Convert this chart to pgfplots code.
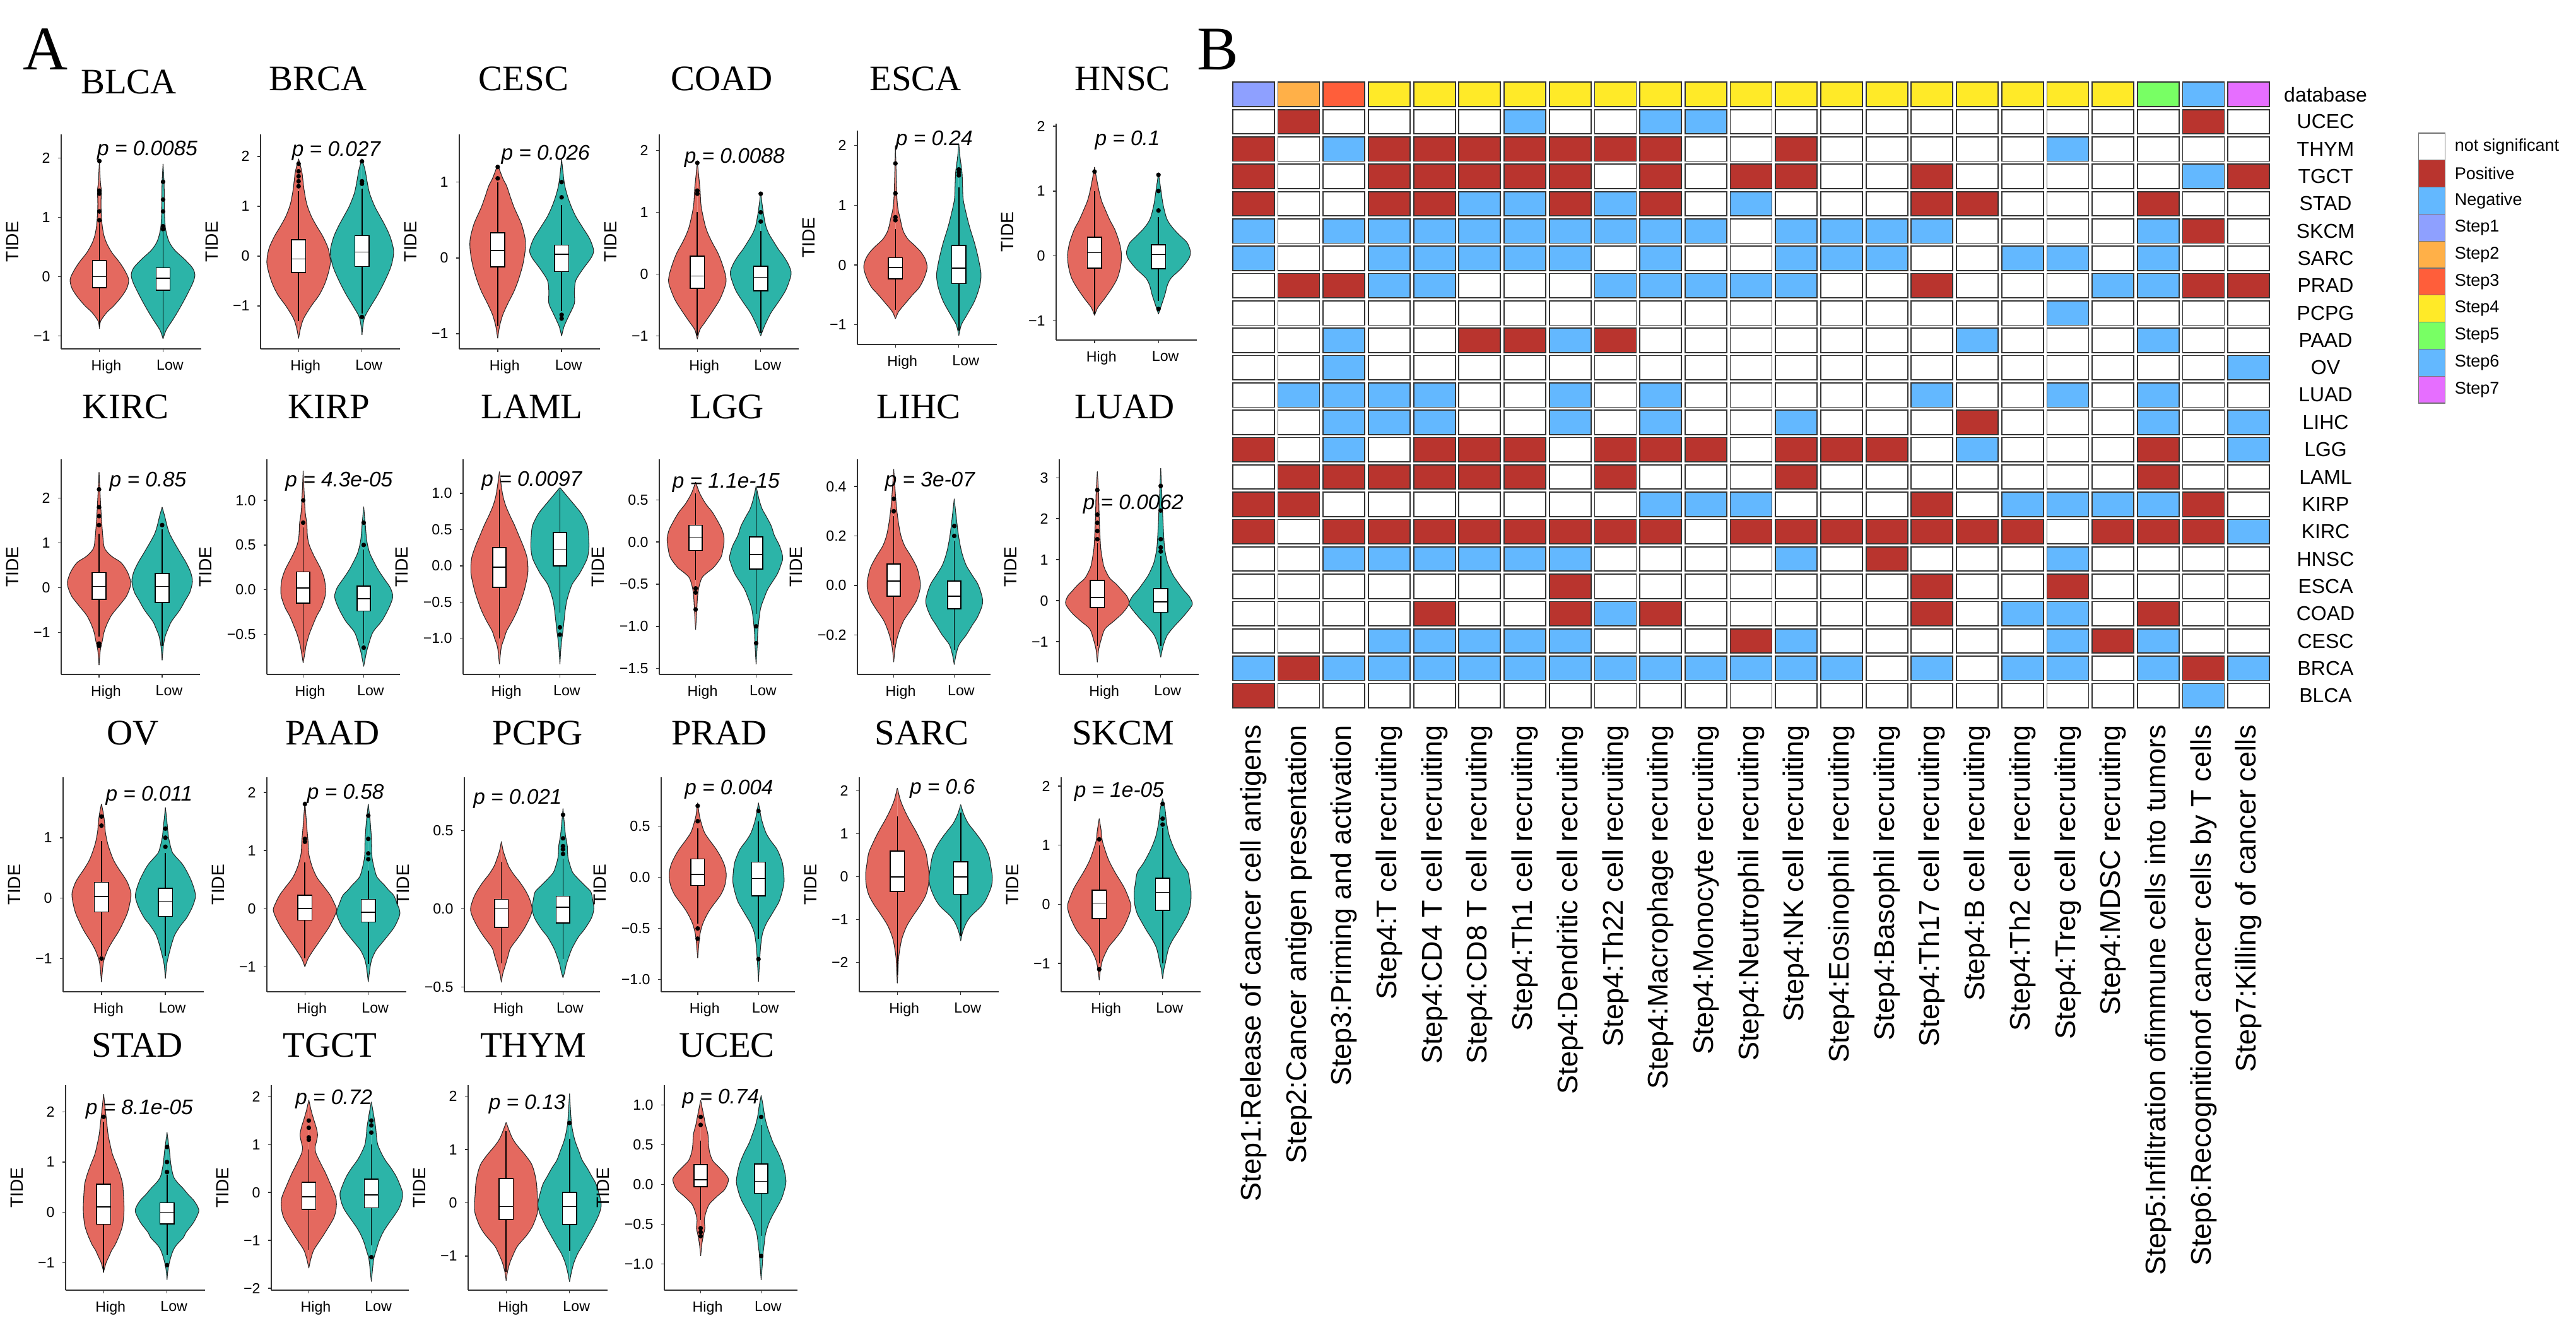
\documentclass[border=0pt]{standalone}
\usepackage{fontspec}
\setmainfont{Liberation Serif}
\newfontfamily\arial{Liberation Sans}
\usepackage{pgfplots}
\usepackage{pgfplotstable}
\pgfplotsset{compat=1.18}
\usepgfplotslibrary{statistics}

\definecolor{hcol}{HTML}{E4695F}
\definecolor{lcol}{HTML}{2CB4A8}
\definecolor{pos}{HTML}{B9342E}
\definecolor{neg}{HTML}{63B8FF}
\definecolor{st1}{HTML}{8EA0FF}
\definecolor{st2}{HTML}{FFB048}
\definecolor{st3}{HTML}{FF5E3A}
\definecolor{st4}{HTML}{FFEA28}
\definecolor{st5}{HTML}{78FF64}
\definecolor{st6}{HTML}{63B8FF}
\definecolor{st7}{HTML}{E66EFF}

\newcommand{\tickf}{\arial\fontsize{6.6}{7}\selectfont}
\newcommand{\tidef}{\arial\fontsize{8}{9}\selectfont}
\newcommand{\pf}{\arial\itshape\fontsize{9.5}{10}\selectfont}
\newcommand{\titf}{\rmfamily\fontsize{16.2}{17}\selectfont}
\newcommand{\abf}{\rmfamily\fontsize{28}{30}\selectfont}
\newcommand{\hxf}{\arial\fontsize{12.8}{14}\selectfont}
\newcommand{\hyf}{\arial\fontsize{9.1}{10}\selectfont}
\newcommand{\legf}{\arial\fontsize{7.7}{9}\selectfont}

\pgfdeclareplotmark{cell}{\pgfpathrectangle{\pgfpoint{-3.3mm}{-1.925mm}}{\pgfpoint{6.6mm}{3.85mm}}\pgfusepathqfillstroke}

\pgfplotsset{
 vio/.style={scale only axis, anchor=south west, axis lines*=left, xmin=0.4, xmax=2.6,
   xtick={1,2}, xticklabels={High,Low}, clip=false,
   tick align=outside, major tick length=0.5mm, tick style={black!80, line width=0.4pt},
   axis line style={black!80, line width=0.6pt},
   ticklabel style={font=\tickf}, xticklabel style={xshift=1.1mm},
   ylabel={TIDE}, ylabel style={font=\tidef}},
 bx/.style={draw=black, line width=0.45pt, fill=white, mark=*, mark size=0.8pt,
   mark options={fill=black, draw=black, solid}, boxplot/draw direction=y,
   boxplot/box extend=0.22, boxplot/whisker extend=0}
}
\tikzset{pv/.style={anchor=base west, inner sep=0pt, font=\pf}}
\newcommand{\AT}[2]{at={(#1*0.1mm,-#2*0.1mm)}}
\newcommand{\violin}[3]{%
 \addplot[fill=#3, draw=black!85, line width=0.3pt, smooth, tension=0.5] table[x expr={#2-\thisrow{w}}, y=y]{#1};
 \addplot[fill=#3, draw=black!85, line width=0.3pt, smooth, tension=0.5] table[x expr={#2+\thisrow{w}}, y=y]{#1};}
\newcommand{\bp}[7]{\addplot[bx,boxplot prepared={draw position=#1,lower whisker=#2,lower quartile=#3,median=#4,upper quartile=#5,upper whisker=#6}] table[row sep=\\,y index=0]{v\\#7};}
\newcommand{\bpn}[6]{\addplot[bx,boxplot prepared={draw position=#1,lower whisker=#2,lower quartile=#3,median=#4,upper quartile=#5,upper whisker=#6}] coordinates {};}
\newcommand{\vt}[2]{\pgfplotstableread[row sep=\\]{y w\\#2}#1}

\vt{\tBLCAh}{-0.88 0\\-0.75 0.02\\-0.6 0.12\\-0.5 0.22\\-0.35 0.34\\-0.2 0.43\\-0.05 0.46\\0.1 0.40\\0.25 0.31\\0.4 0.2\\0.55 0.12\\0.7 0.07\\0.9 0.04\\1.2 0.025\\1.45 0.03\\1.6 0.015\\1.95 0\\}
\vt{\tBLCAl}{-1.05 0\\-0.9 0.05\\-0.7 0.17\\-0.5 0.28\\-0.3 0.38\\-0.1 0.47\\0.03 0.5\\0.15 0.46\\0.3 0.33\\0.45 0.18\\0.6 0.09\\0.8 0.04\\1.0 0.025\\1.3 0.02\\1.6 0.015\\1.9 0\\}
\vt{\tBRCAh}{-1.65 0\\-1.45 0.03\\-1.25 0.08\\-1.0 0.2\\-0.77 0.33\\-0.5 0.43\\-0.15 0.5\\0.14 0.47\\0.4 0.38\\0.59 0.29\\0.8 0.2\\1.04 0.13\\1.3 0.09\\1.5 0.07\\1.7 0.05\\1.95 0\\}
\vt{\tBRCAl}{-1.58 0\\-1.35 0.02\\-1.2 0.05\\-1.0 0.14\\-0.77 0.25\\-0.5 0.36\\-0.2 0.46\\0.09 0.5\\0.37 0.45\\0.6 0.37\\0.81 0.28\\1.0 0.2\\1.26 0.12\\1.5 0.08\\1.72 0.05\\1.95 0\\}
\vt{\tCESCh}{-1.06 0\\-0.9 0.03\\-0.75 0.08\\-0.6 0.16\\-0.45 0.25\\-0.3 0.32\\-0.1 0.39\\0.1 0.43\\0.25 0.43\\0.45 0.37\\0.66 0.26\\0.8 0.2\\0.95 0.14\\1.05 0.08\\1.23 0\\}
\vt{\tCESCl}{-1.03 0\\-0.9 0.04\\-0.75 0.12\\-0.6 0.2\\-0.45 0.2\\-0.3 0.22\\-0.15 0.33\\0.0 0.46\\0.1 0.5\\0.25 0.44\\0.4 0.33\\0.55 0.22\\0.7 0.14\\0.85 0.08\\1.0 0.04\\1.3 0\\}
\vt{\tCOADh}{-1.05 0\\-0.9 0.04\\-0.78 0.12\\-0.6 0.24\\-0.4 0.36\\-0.15 0.45\\0.0 0.44\\0.2 0.38\\0.35 0.32\\0.5 0.24\\0.65 0.17\\0.8 0.12\\1.1 0.06\\1.4 0.04\\1.8 0\\}
\vt{\tCOADl}{-1.0 0\\-0.84 0.06\\-0.63 0.16\\-0.45 0.28\\-0.25 0.4\\0.0 0.48\\0.15 0.44\\0.29 0.36\\0.4 0.28\\0.53 0.2\\0.65 0.13\\0.78 0.08\\1.0 0.04\\1.31 0\\}
\vt{\tESCAh}{-0.9 0\\-0.78 0.05\\-0.65 0.15\\-0.5 0.27\\-0.37 0.38\\-0.2 0.46\\-0.04 0.5\\0.1 0.47\\0.22 0.4\\0.33 0.3\\0.43 0.2\\0.55 0.13\\0.65 0.1\\0.8 0.07\\0.94 0.04\\1.2 0.02\\2.0 0\\}
\vt{\tESCAl}{-1.18 0\\-1.0 0.04\\-0.85 0.12\\-0.6 0.25\\-0.35 0.33\\-0.15 0.35\\0.1 0.31\\0.36 0.25\\0.6 0.18\\0.8 0.13\\1.09 0.07\\1.3 0.06\\1.55 0.05\\1.8 0.02\\2.03 0\\}
\vt{\tHNSCh}{-0.92 0\\-0.8 0.05\\-0.67 0.15\\-0.5 0.27\\-0.34 0.36\\-0.15 0.41\\0.03 0.42\\0.2 0.39\\0.4 0.32\\0.55 0.24\\0.73 0.16\\0.85 0.11\\1.0 0.07\\1.2 0.03\\1.37 0\\}
\vt{\tHNSCl}{-0.9 0\\-0.75 0.05\\-0.6 0.1\\-0.45 0.14\\-0.34 0.2\\-0.2 0.35\\-0.05 0.47\\0.06 0.5\\0.2 0.45\\0.3 0.35\\0.4 0.25\\0.5 0.17\\0.6 0.12\\0.8 0.07\\1.0 0.04\\1.27 0\\}
\vt{\tKIRCh}{-1.73 0\\-1.4 0.02\\-1.2 0.05\\-0.99 0.08\\-0.8 0.13\\-0.61 0.2\\-0.4 0.32\\-0.2 0.43\\0.0 0.49\\0.14 0.5\\0.35 0.45\\0.56 0.35\\0.7 0.2\\0.85 0.1\\1.0 0.07\\1.5 0.04\\2.0 0.02\\2.58 0\\}
\vt{\tKIRCl}{-1.62 0\\-1.3 0.02\\-1.08 0.05\\-0.9 0.1\\-0.75 0.15\\-0.5 0.28\\-0.3 0.36\\-0.1 0.44\\0.14 0.48\\0.35 0.45\\0.56 0.38\\0.75 0.3\\0.99 0.2\\1.2 0.12\\1.37 0.08\\1.6 0.04\\1.8 0\\}
\vt{\tKIRPh}{-0.82 0\\-0.7 0.03\\-0.62 0.05\\-0.5 0.1\\-0.43 0.14\\-0.3 0.22\\-0.2 0.3\\-0.08 0.36\\0.01 0.37\\0.12 0.35\\0.22 0.3\\0.3 0.24\\0.39 0.17\\0.5 0.1\\0.6 0.07\\0.74 0.06\\0.9 0.03\\1.33 0\\}
\vt{\tKIRPl}{-0.86 0\\-0.72 0.04\\-0.64 0.07\\-0.48 0.15\\-0.35 0.3\\-0.2 0.42\\-0.08 0.48\\0.02 0.44\\0.11 0.35\\0.2 0.26\\0.27 0.2\\0.41 0.1\\0.55 0.05\\0.7 0.03\\0.93 0\\}
\vt{\tLAMLh}{-1.36 0\\-1.13 0.03\\-1.0 0.08\\-0.9 0.12\\-0.75 0.22\\-0.61 0.3\\-0.45 0.37\\-0.31 0.42\\-0.1 0.47\\0.1 0.46\\0.26 0.4\\0.4 0.33\\0.56 0.25\\0.7 0.17\\0.84 0.1\\1.0 0.05\\1.3 0\\}
\vt{\tLAMLl}{-1.36 0\\-1.1 0.02\\-0.9 0.05\\-0.75 0.07\\-0.6 0.09\\-0.46 0.12\\-0.26 0.2\\-0.1 0.33\\0.1 0.45\\0.26 0.48\\0.45 0.47\\0.56 0.45\\0.7 0.37\\0.78 0.3\\0.9 0.18\\0.96 0.12\\1.08 0\\}
\vt{\tLGGh}{-1.04 0\\-0.8 0.02\\-0.67 0.03\\-0.55 0.05\\-0.43 0.1\\-0.37 0.18\\-0.3 0.3\\-0.18 0.42\\-0.05 0.46\\0.04 0.47\\0.14 0.44\\0.24 0.37\\0.35 0.28\\0.44 0.18\\0.52 0.11\\0.59 0.06\\0.71 0\\}
\vt{\tLGGl}{-1.45 0\\-1.2 0.02\\-1.04 0.03\\-0.8 0.07\\-0.65 0.14\\-0.55 0.2\\-0.38 0.35\\-0.25 0.42\\-0.18 0.44\\-0.05 0.39\\0.08 0.3\\0.19 0.25\\0.3 0.17\\0.39 0.1\\0.5 0.05\\0.66 0\\}
\vt{\tLIHCh}{-0.31 0\\-0.26 0.02\\-0.22 0.05\\-0.18 0.1\\-0.14 0.17\\-0.1 0.28\\-0.06 0.38\\-0.02 0.43\\0.01 0.44\\0.05 0.41\\0.08 0.37\\0.12 0.28\\0.16 0.18\\0.2 0.12\\0.25 0.08\\0.33 0.04\\0.47 0\\}
\vt{\tLIHCl}{-0.32 0\\-0.28 0.03\\-0.24 0.08\\-0.2 0.2\\-0.16 0.3\\-0.13 0.38\\-0.09 0.45\\-0.06 0.47\\-0.02 0.43\\0.01 0.38\\0.04 0.3\\0.08 0.2\\0.12 0.14\\0.16 0.1\\0.22 0.06\\0.35 0\\}
\vt{\tLUADh}{-1.5 0\\-1.2 0.02\\-0.95 0.06\\-0.69 0.12\\-0.5 0.26\\-0.3 0.4\\-0.08 0.5\\0.1 0.47\\0.23 0.4\\0.4 0.3\\0.54 0.2\\0.7 0.14\\0.85 0.1\\1.1 0.07\\1.35 0.05\\2.0 0.03\\2.6 0.02\\3.15 0\\}
\vt{\tLUADl}{-1.38 0\\-1.1 0.04\\-0.85 0.1\\-0.65 0.2\\-0.45 0.32\\-0.25 0.43\\-0.08 0.5\\0.1 0.45\\0.26 0.36\\0.45 0.27\\0.61 0.2\\0.8 0.14\\0.97 0.1\\1.3 0.06\\1.8 0.04\\2.5 0.02\\3.23 0\\}
\vt{\tOVh}{-1.39 0\\-1.15 0.02\\-1.02 0.04\\-0.85 0.1\\-0.7 0.18\\-0.53 0.28\\-0.26 0.4\\-0.05 0.45\\0.09 0.46\\0.25 0.41\\0.36 0.35\\0.5 0.26\\0.65 0.18\\0.89 0.1\\1.1 0.06\\1.24 0.05\\1.4 0.03\\1.56 0\\}
\vt{\tOVl}{-1.33 0\\-1.1 0.02\\-0.95 0.05\\-0.75 0.1\\-0.6 0.15\\-0.45 0.24\\-0.33 0.33\\-0.15 0.42\\0.02 0.47\\0.15 0.45\\0.3 0.4\\0.45 0.33\\0.57 0.26\\0.7 0.15\\0.78 0.1\\1.0 0.05\\1.2 0.03\\1.5 0\\}
\vt{\tPAADh}{-1.0 0\\-0.86 0.05\\-0.72 0.13\\-0.61 0.2\\-0.45 0.3\\-0.32 0.38\\-0.15 0.46\\-0.02 0.5\\0.1 0.46\\0.23 0.4\\0.35 0.32\\0.52 0.2\\0.65 0.14\\0.77 0.1\\0.95 0.06\\1.15 0.05\\1.4 0.03\\1.84 0\\}
\vt{\tPAADl}{-1.26 0\\-1.0 0.03\\-0.86 0.06\\-0.72 0.12\\-0.61 0.2\\-0.45 0.32\\-0.3 0.42\\-0.08 0.5\\0.1 0.45\\0.23 0.4\\0.32 0.32\\0.41 0.25\\0.5 0.17\\0.59 0.12\\0.88 0.06\\1.2 0.05\\1.5 0.03\\1.8 0\\}
\vt{\tPCPGh}{-0.47 0\\-0.42 0.02\\-0.38 0.05\\-0.3 0.11\\-0.25 0.15\\-0.18 0.28\\-0.12 0.38\\-0.05 0.47\\0.0 0.5\\0.06 0.46\\0.11 0.4\\0.17 0.3\\0.22 0.2\\0.27 0.12\\0.31 0.08\\0.37 0.03\\0.43 0\\}
\vt{\tPCPGl}{-0.44 0\\-0.4 0.03\\-0.36 0.05\\-0.3 0.1\\-0.25 0.15\\-0.18 0.25\\-0.13 0.35\\-0.06 0.46\\0.0 0.5\\0.06 0.48\\0.11 0.45\\0.15 0.35\\0.19 0.25\\0.23 0.16\\0.27 0.12\\0.33 0.08\\0.4 0.07\\0.47 0.04\\0.55 0.02\\0.64 0\\}
\vt{\tPRADh}{-0.79 0\\-0.65 0.02\\-0.55 0.04\\-0.46 0.08\\-0.38 0.14\\-0.3 0.22\\-0.17 0.38\\-0.07 0.45\\0.03 0.47\\0.12 0.44\\0.2 0.38\\0.28 0.3\\0.36 0.2\\0.43 0.12\\0.49 0.08\\0.6 0.03\\0.73 0\\}
\vt{\tPRADl}{-1.02 0\\-0.8 0.02\\-0.65 0.04\\-0.54 0.07\\-0.45 0.13\\-0.38 0.2\\-0.3 0.28\\-0.22 0.35\\-0.05 0.42\\0.12 0.4\\0.2 0.36\\0.28 0.3\\0.36 0.2\\0.44 0.12\\0.57 0.05\\0.73 0\\}
\vt{\tSARCh}{-2.49 0\\-2.2 0.01\\-1.9 0.02\\-1.6 0.05\\-1.41 0.08\\-1.15 0.15\\-0.91 0.25\\-0.65 0.37\\-0.43 0.45\\-0.2 0.49\\0.06 0.5\\0.3 0.48\\0.56 0.45\\0.8 0.38\\1.04 0.3\\1.3 0.2\\1.53 0.12\\1.78 0.05\\2.07 0\\}
\vt{\tSARCl}{-1.5 0\\-1.35 0.02\\-1.21 0.05\\-1.05 0.1\\-0.91 0.17\\-0.7 0.32\\-0.53 0.4\\-0.25 0.48\\-0.03 0.5\\0.2 0.48\\0.46 0.45\\0.65 0.4\\0.85 0.32\\1.05 0.22\\1.24 0.12\\1.45 0.05\\1.68 0\\}
\vt{\tSKCMh}{-1.28 0\\-1.1 0.02\\-0.95 0.05\\-0.87 0.08\\-0.72 0.15\\-0.59 0.25\\-0.45 0.35\\-0.31 0.42\\-0.15 0.48\\-0.02 0.5\\0.12 0.46\\0.27 0.4\\0.4 0.33\\0.54 0.25\\0.7 0.17\\0.83 0.12\\1.07 0.05\\1.25 0.03\\1.45 0\\}
\vt{\tSKCMl}{-1.26 0\\-1.1 0.02\\-1.01 0.04\\-0.85 0.07\\-0.73 0.1\\-0.6 0.16\\-0.45 0.25\\-0.3 0.33\\-0.16 0.4\\0.0 0.44\\0.19 0.45\\0.35 0.43\\0.54 0.4\\0.7 0.3\\0.9 0.2\\1.05 0.14\\1.18 0.1\\1.4 0.06\\1.6 0.04\\1.79 0\\}
\vt{\tSTADh}{-1.18 0\\-1.0 0.04\\-0.89 0.08\\-0.75 0.13\\-0.65 0.18\\-0.45 0.25\\-0.25 0.3\\0.0 0.32\\0.16 0.32\\0.4 0.31\\0.56 0.3\\0.75 0.26\\0.96 0.2\\1.15 0.14\\1.36 0.1\\1.55 0.07\\1.77 0.05\\2.0 0.03\\2.35 0\\}
\vt{\tSTADl}{-1.34 0\\-1.1 0.02\\-0.89 0.06\\-0.75 0.1\\-0.65 0.15\\-0.5 0.26\\-0.4 0.3\\-0.2 0.42\\0.01 0.5\\0.12 0.48\\0.24 0.42\\0.36 0.33\\0.48 0.25\\0.6 0.16\\0.72 0.1\\0.96 0.06\\1.2 0.04\\1.59 0\\}
\vt{\tTGCTh}{-1.58 0\\-1.4 0.03\\-1.2 0.08\\-1.0 0.18\\-0.86 0.25\\-0.53 0.4\\-0.3 0.44\\-0.1 0.43\\0.16 0.35\\0.4 0.27\\0.58 0.2\\0.8 0.12\\0.93 0.1\\1.05 0.12\\1.2 0.14\\1.35 0.12\\1.52 0.08\\1.7 0.04\\1.93 0\\}
\vt{\tTGCTl}{-1.86 0\\-1.6 0.02\\-1.38 0.04\\-1.2 0.08\\-1.03 0.12\\-0.85 0.18\\-0.7 0.25\\-0.36 0.43\\-0.15 0.49\\-0.01 0.5\\0.15 0.46\\0.33 0.4\\0.5 0.32\\0.68 0.22\\0.85 0.15\\1.01 0.1\\1.2 0.08\\1.35 0.07\\1.6 0.04\\1.89 0\\}
\vt{\tTHYMh}{-1.46 0\\-1.3 0.02\\-1.12 0.06\\-0.95 0.12\\-0.81 0.18\\-0.6 0.33\\-0.43 0.42\\-0.2 0.49\\-0.03 0.5\\0.15 0.49\\0.35 0.48\\0.55 0.45\\0.73 0.4\\0.9 0.3\\1.04 0.2\\1.15 0.13\\1.26 0.08\\1.51 0\\}
\vt{\tTHYMl}{-1.48 0\\-1.3 0.03\\-1.12 0.07\\-0.95 0.13\\-0.81 0.2\\-0.6 0.3\\-0.43 0.38\\-0.2 0.47\\-0.03 0.5\\0.15 0.47\\0.35 0.42\\0.5 0.35\\0.65 0.28\\0.8 0.2\\0.96 0.15\\1.19 0.08\\1.5 0.03\\2.05 0\\}
\vt{\tUCECh}{-0.9 0\\-0.75 0.02\\-0.62 0.05\\-0.55 0.07\\-0.45 0.06\\-0.37 0.08\\-0.3 0.11\\-0.24 0.15\\-0.15 0.27\\-0.06 0.4\\0.06 0.46\\0.14 0.4\\0.22 0.3\\0.3 0.2\\0.4 0.15\\0.5 0.13\\0.63 0.12\\0.75 0.08\\0.83 0.06\\1.06 0\\}
\vt{\tUCECl}{-1.2 0\\-1.0 0.02\\-0.88 0.03\\-0.75 0.05\\-0.63 0.07\\-0.5 0.12\\-0.4 0.18\\-0.19 0.33\\-0.05 0.39\\0.04 0.41\\0.15 0.39\\0.27 0.35\\0.4 0.28\\0.52 0.2\\0.62 0.15\\0.73 0.1\\0.85 0.06\\1.0 0.03\\1.12 0\\}

% heatmap: rows UCEC (top) ... BLCA (bottom); 0 = not significant, 1 = Positive, 2 = Negative
\pgfplotstableread[row sep=\\]{
s1 s2 s3 s4 s5 s6 s7 s8 s9 s10 s11 s12 s13 s14 s15 s16 s17 s18 s19 s20 s21 s22 s23\\
0 1 0 0 0 0 2 0 0 2 2 0 0 0 0 0 0 0 0 0 0 1 0\\
1 0 2 1 1 1 1 1 1 1 0 0 1 0 0 0 0 0 2 0 0 0 0\\
1 0 0 1 1 1 1 1 0 1 0 1 1 0 0 1 0 0 0 0 0 2 1\\
1 0 0 1 1 2 2 1 2 1 0 2 0 0 0 1 1 0 0 0 1 0 0\\
2 0 2 2 2 2 2 2 2 2 2 0 2 2 2 2 0 0 0 0 2 1 0\\
2 0 0 2 2 2 2 2 0 2 0 0 2 2 2 0 0 2 2 0 2 0 0\\
0 1 1 2 2 0 0 0 2 2 2 2 2 0 0 1 0 0 0 2 2 1 1\\
0 0 0 0 0 0 0 0 0 0 0 0 0 0 0 0 0 0 2 0 0 0 0\\
0 0 2 0 0 1 1 2 1 0 0 0 0 0 0 0 2 0 0 0 2 0 0\\
0 0 2 0 0 0 0 0 0 0 0 0 0 0 0 0 0 0 0 0 0 0 2\\
0 2 2 2 2 0 0 2 0 2 0 0 0 0 0 2 0 0 2 0 2 0 0\\
0 0 2 2 2 0 0 2 0 2 0 0 2 0 0 0 1 0 0 0 2 0 2\\
1 0 2 0 1 1 1 0 1 1 1 0 1 1 1 0 2 0 0 0 1 0 2\\
0 1 1 1 1 1 1 0 1 0 0 0 1 0 0 0 0 0 0 0 1 0 0\\
1 1 0 0 0 0 0 0 0 2 2 2 0 0 0 1 0 2 2 2 2 1 0\\
1 0 1 1 1 1 1 1 1 1 0 1 1 1 1 1 1 1 0 1 1 1 2\\
0 0 2 2 2 2 2 2 0 0 0 0 2 0 1 0 0 0 2 0 0 0 0\\
0 0 0 0 0 0 0 1 0 0 0 0 0 0 0 1 0 0 1 0 0 0 0\\
0 0 0 0 1 0 0 1 2 1 0 0 0 0 0 1 0 2 2 0 1 0 0\\
0 0 0 2 2 2 2 2 0 0 0 1 2 0 0 0 0 0 2 1 2 0 0\\
2 1 2 2 2 2 2 2 2 2 2 2 2 2 0 2 0 2 2 0 2 1 2\\
1 0 0 0 0 0 0 0 0 0 0 0 0 0 0 0 0 0 0 0 0 2 0\\
}\heat
\pgfplotstableread[row sep=\\]{x st\\1 1\\2 2\\3 3\\4 4\\5 4\\6 4\\7 4\\8 4\\9 4\\10 4\\11 4\\12 4\\13 4\\14 4\\15 4\\16 4\\17 4\\18 4\\19 4\\20 4\\21 5\\22 6\\23 7\\}\hdr

\begin{document}
\begin{tikzpicture}
\path[use as bounding box] (0,0) rectangle (408.3mm,-212.4mm);

\begin{scope}[x=0.1mm,y=-0.1mm]
\node[anchor=base west, inner sep=0pt, font=\abf] at (36,110) {A};
\node[anchor=base west, inner sep=0pt, font=\abf] at (1897,110) {B};
\foreach \t/\x/\y in {BLCA/204/148,BRCA/504/143,CESC/830/143,COAD/1144/143,ESCA/1451/143,HNSC/1779/143,
  KIRC/199/663,KIRP/521/663,LAML/843/663,LGG/1152/663,LIHC/1456/663,LUAD/1783/663,
  OV/211/1180,PAAD/527/1180,PCPG/852/1180,PRAD/1140/1180,SARC/1461/1180,SKCM/1780/1180,
  STAD/218/1675,TGCT/523/1675,THYM/845/1675,UCEC/1152/1675}
  {\node[anchor=base, inner sep=0pt, font=\titf] at (\x,\y) {\t};}
\foreach \c/\t [count=\i from 0] in {white/not significant,pos/Positive,neg/Negative,st1/Step1,st2/Step2,st3/Step3,st4/Step4,st5/Step5,st6/Step6,st7/Step7}{
  \filldraw[fill=\c, draw=black!55, line width=0.3pt] (3833,{211+42.8*\i}) rectangle (3875,{211+42.8*(\i+1)});
  \node[anchor=west, inner sep=0pt, font=\legf] at (3890,{211+42.8*(\i+0.5)}) {\t};
}
\end{scope}

% ---------- row 1
\begin{axis}[vio,\AT{97}{553},width=22.2mm,height=34mm,ymin=-1.22,ymax=2.40,ytick={-1,0,1,2},yticklabels={−1,0,1,2}]
\violin{\tBLCAh}{1}{hcol}\violin{\tBLCAl}{2}{lcol}
\bp{1}{-0.85}{-0.19}{0}{0.27}{0.9}{0.95\\1.1\\1.4\\1.45\\1.95\\}
\bp{2}{-1.0}{-0.23}{-0.03}{0.15}{0.75}{0.8\\0.85\\1.1\\1.3\\1.6\\}
\node[pv] at (axis cs:0.96,2.04) {p = 0.0085};
\end{axis}
\begin{axis}[vio,\AT{413}{553},width=22.1mm,height=34mm,ymin=-1.86,ymax=2.44,ytick={-1,0,1,2},yticklabels={−1,0,1,2}]
\violin{\tBRCAh}{1}{hcol}\violin{\tBRCAl}{2}{lcol}
\bp{1}{-1.3}{-0.33}{-0.06}{0.33}{1.3}{1.4\\1.5\\1.6\\1.7\\1.85\\}
\bp{2}{-1.15}{-0.21}{0.08}{0.41}{1.35}{-1.22\\1.45\\1.5\\1.9\\}
\node[pv] at (axis cs:0.89,2.01) {p = 0.027};
\end{axis}
\begin{axis}[vio,\AT{728}{553},width=22.3mm,height=34mm,ymin=-1.2,ymax=1.63,ytick={-1,0,1},yticklabels={−1,0,1}]
\violin{\tCESCh}{1}{hcol}\violin{\tCESCl}{2}{lcol}
\bp{1}{-0.9}{-0.12}{0.1}{0.33}{1.0}{1.05\\1.2\\}
\bp{2}{-0.7}{-0.18}{0.05}{0.17}{0.7}{-0.8\\-0.75\\0.8\\1.0\\}
\node[pv] at (axis cs:1.05,1.29) {p = 0.026};
\end{axis}
\begin{axis}[vio,\AT{1045}{553},width=22.1mm,height=34mm,ymin=-1.21,ymax=2.26,ytick={-1,0,1,2},yticklabels={−1,0,1,2}]
\violin{\tCOADh}{1}{hcol}\violin{\tCOADl}{2}{lcol}
\bp{1}{-1.0}{-0.23}{-0.03}{0.29}{1.0}{1.3\\1.35\\1.8\\}
\bp{2}{-0.95}{-0.27}{-0.05}{0.13}{0.7}{0.85\\1.0\\1.3\\}
\node[pv] at (axis cs:0.79,1.8) {p = 0.0088};
\end{axis}
\begin{axis}[vio,\AT{1359}{546},width=22.1mm,height=33.9mm,ymin=-1.33,ymax=2.25,ytick={-1,0,1,2},yticklabels={−1,0,1,2}]
\violin{\tESCAh}{1}{hcol}\violin{\tESCAl}{2}{lcol}
\bp{1}{-0.75}{-0.23}{-0.04}{0.12}{0.6}{0.75\\0.8\\1.2\\1.7\\}
\bp{2}{-1.1}{-0.31}{-0.05}{0.33}{1.3}{1.5\\1.55\\1.6\\}
\node[pv] at (axis cs:1.0,2.0) {p = 0.24};
\end{axis}
\begin{axis}[vio,\AT{1674}{539},width=22.3mm,height=34.3mm,ymin=-1.3,ymax=2.04,ytick={-1,0,1,2},yticklabels={−1,0,1,2}]
\violin{\tHNSCh}{1}{hcol}\violin{\tHNSCl}{2}{lcol}
\bp{1}{-0.9}{-0.19}{0.05}{0.29}{1.0}{1.3\\}
\bp{2}{-0.7}{-0.2}{0.02}{0.17}{0.6}{-0.82\\0.7\\1.0\\1.25\\}
\node[pv] at (axis cs:1.0,1.7) {p = 0.1};
\end{axis}

% ---------- row 2
\begin{axis}[vio,\AT{97}{1069},width=22.0mm,height=34.1mm,ymin=-1.94,ymax=2.87,ytick={-1,0,1,2},yticklabels={−1,0,1,2}]
\violin{\tKIRCh}{1}{hcol}\violin{\tKIRCl}{2}{lcol}
\bp{1}{-1.1}{-0.26}{0.03}{0.34}{1.2}{-1.3\\-1.25\\1.4\\1.6\\1.8\\2.2\\}
\bp{2}{-1.3}{-0.33}{0.03}{0.32}{1.3}{1.4\\}
\node[pv] at (axis cs:1.16,2.25) {p = 0.85};
\end{axis}
\begin{axis}[vio,\AT{423}{1069},width=21.1mm,height=34.1mm,ymin=-0.95,ymax=1.46,ytick={-0.5,0,0.5,1},yticklabels={−0.5,0.0,0.5,1.0}]
\violin{\tKIRPh}{1}{hcol}\violin{\tKIRPl}{2}{lcol}
\bp{1}{-0.7}{-0.15}{0.02}{0.2}{0.7}{0.75\\1.0\\}
\bp{2}{-0.6}{-0.24}{-0.1}{0.04}{0.45}{-0.65\\0.5\\0.75\\}
\node[pv] at (axis cs:0.7,1.15) {p = 4.3e-05};
\end{axis}
\begin{axis}[vio,\AT{734}{1069},width=21.1mm,height=34.1mm,ymin=-1.5,ymax=1.47,ytick={-1,-0.5,0,0.5,1},yticklabels={−1.0,−0.5,0.0,0.5,1.0}]
\violin{\tLAMLh}{1}{hcol}\violin{\tLAMLl}{2}{lcol}
\bpn{1}{-1.0}{-0.3}{-0.02}{0.25}{1.05}
\bp{2}{-0.65}{0.0}{0.22}{0.46}{1.05}{-0.85\\-0.95\\}
\node[pv] at (axis cs:0.7,1.1) {p = 0.0097};
\end{axis}
\begin{axis}[vio,\AT{1045}{1069},width=21.1mm,height=34.1mm,ymin=-1.57,ymax=0.98,ytick={-1.5,-1,-0.5,0,0.5},yticklabels={−1.5,−1.0,−0.5,0.0,0.5}]
\violin{\tLGGh}{1}{hcol}\violin{\tLGGl}{2}{lcol}
\bp{1}{-0.45}{-0.1}{0.05}{0.2}{0.58}{-0.55\\-0.6\\-0.8\\}
\bp{2}{-0.85}{-0.32}{-0.15}{0.06}{0.6}{-1.0\\-1.2\\}
\node[pv] at (axis cs:0.61,0.64) {p = 1.1e-15};
\end{axis}
\begin{axis}[vio,\AT{1359}{1069},width=21.1mm,height=34.1mm,ymin=-0.36,ymax=0.51,ytick={-0.2,0,0.2,0.4},yticklabels={−0.2,0.0,0.2,0.4}]
\violin{\tLIHCh}{1}{hcol}\violin{\tLIHCl}{2}{lcol}
\bp{1}{-0.24}{-0.043}{0.017}{0.087}{0.28}{0.3\\0.35\\}
\bp{2}{-0.26}{-0.094}{-0.043}{0.018}{0.18}{0.2\\0.24\\}
\node[pv] at (axis cs:0.85,0.4) {p = 3e-07};
\end{axis}
\begin{axis}[vio,\AT{1679}{1069},width=22.1mm,height=34.1mm,ymin=-1.8,ymax=3.45,ytick={-1,0,1,2,3},yticklabels={−1,0,1,2,3}]
\violin{\tLUADh}{1}{hcol}\violin{\tLUADl}{2}{lcol}
\bp{1}{-1.1}{-0.17}{0.08}{0.49}{1.4}{1.5\\1.7\\1.9\\2.1\\2.7\\}
\bp{2}{-1.1}{-0.28}{-0.03}{0.29}{1.1}{1.2\\1.3\\1.5\\2.2\\2.8\\}
\node[pv] at (axis cs:0.77,2.23) {p = 0.0062};
\end{axis}

% ---------- row 3
\begin{axis}[vio,\AT{100}{1572},width=22.3mm,height=34mm,ymin=-1.55,ymax=2.0,ytick={-1,0,1},yticklabels={−1,0,1}]
\violin{\tOVh}{1}{hcol}\violin{\tOVl}{2}{lcol}
\bp{1}{-0.95}{-0.23}{0.03}{0.26}{0.95}{-1.0\\1.2\\1.35\\}
\bp{2}{-0.95}{-0.3}{-0.05}{0.16}{0.75}{0.85\\1.0\\1.15\\}
\node[pv] at (axis cs:1.06,1.61) {p = 0.011};
\end{axis}
\begin{axis}[vio,\AT{423}{1572},width=22.1mm,height=34mm,ymin=-1.43,ymax=2.26,ytick={-1,0,1,2},yticklabels={−1,0,1,2}]
\violin{\tPAADh}{1}{hcol}\violin{\tPAADl}{2}{lcol}
\bp{1}{-0.85}{-0.2}{0.0}{0.23}{0.8}{1.15\\1.2\\1.8\\}
\bp{2}{-0.95}{-0.23}{-0.06}{0.16}{0.65}{0.85\\0.95\\1.2\\1.6\\}
\node[pv] at (axis cs:1.03,1.89) {p = 0.58};
\end{axis}
\begin{axis}[vio,\AT{736}{1572},width=21.5mm,height=34mm,ymin=-0.53,ymax=0.84,ytick={-0.5,0,0.5},yticklabels={−0.5,0.0,0.5}]
\violin{\tPCPGh}{1}{hcol}\violin{\tPCPGl}{2}{lcol}
\bpn{1}{-0.35}{-0.12}{0.0}{0.06}{0.3}
\bp{2}{-0.32}{-0.09}{0.01}{0.08}{0.32}{0.35\\0.38\\0.4\\0.45\\0.6\\}
\node[pv] at (axis cs:0.54,0.67) {p = 0.021};
\end{axis}
\begin{axis}[vio,\AT{1048}{1572},width=21.2mm,height=34mm,ymin=-1.12,ymax=0.98,ytick={-1,-0.5,0,0.5},yticklabels={−1.0,−0.5,0.0,0.5}]
\violin{\tPRADh}{1}{hcol}\violin{\tPRADl}{2}{lcol}
\bp{1}{-0.45}{-0.08}{0.03}{0.18}{0.48}{-0.5\\-0.6\\0.55\\0.7\\}
\bp{2}{-0.6}{-0.18}{-0.01}{0.15}{0.55}{-0.8\\0.65\\}
\node[pv] at (axis cs:0.78,0.81) {p = 0.004};
\end{axis}
\begin{axis}[vio,\AT{1362}{1572},width=22.1mm,height=34mm,ymin=-2.69,ymax=2.32,ytick={-2,-1,0,1,2},yticklabels={−2,−1,0,1,2}]
\violin{\tSARCh}{1}{hcol}\violin{\tSARCl}{2}{lcol}
\bpn{1}{-2.3}{-0.35}{-0.01}{0.6}{1.4}
\bpn{2}{-1.4}{-0.41}{-0.01}{0.35}{1.5}
\node[pv] at (axis cs:1.19,1.93) {p = 0.6};
\end{axis}
\begin{axis}[vio,\AT{1682}{1572},width=22.1mm,height=34mm,ymin=-1.48,ymax=2.15,ytick={-1,0,1,2},yticklabels={−1,0,1,2}]
\violin{\tSKCMh}{1}{hcol}\violin{\tSKCMl}{2}{lcol}
\bp{1}{-1.0}{-0.24}{0.02}{0.24}{1.0}{-1.1\\1.1\\}
\bp{2}{-1.0}{-0.1}{0.2}{0.44}{1.3}{1.35\\1.45\\1.7\\}
\node[pv] at (axis cs:0.6,1.81) {p = 1e-05};
\end{axis}

% ---------- row 4
\begin{axis}[vio,\AT{104}{2045},width=22.1mm,height=32.5mm,ymin=-1.55,ymax=2.53,ytick={-1,0,1,2},yticklabels={−1,0,1,2}]
\violin{\tSTADh}{1}{hcol}\violin{\tSTADl}{2}{lcol}
\bp{1}{-1.2}{-0.24}{0.11}{0.56}{1.8}{1.9\\}
\bp{2}{-0.85}{-0.23}{0.0}{0.19}{0.75}{-1.05\\0.8\\1.0\\1.3\\}
\node[pv] at (axis cs:0.71,1.95) {p = 8.1e-05};
\end{axis}
\begin{axis}[vio,\AT{430}{2045},width=21.8mm,height=32.5mm,ymin=-2.04,ymax=2.24,ytick={-2,-1,0,1,2},yticklabels={−2,−1,0,1,2}]
\violin{\tTGCTh}{1}{hcol}\violin{\tTGCTl}{2}{lcol}
\bp{1}{-1.2}{-0.35}{-0.09}{0.21}{0.9}{1.1\\1.15\\1.35\\1.5\\}
\bp{2}{-1.1}{-0.32}{-0.05}{0.28}{1.0}{-1.35\\1.25\\1.4\\1.5\\}
\node[pv] at (axis cs:0.78,1.84) {p = 0.72};
\end{axis}
\begin{axis}[vio,\AT{742}{2045},width=22.1mm,height=32.5mm,ymin=-1.64,ymax=2.21,ytick={-1,0,1,2},yticklabels={−1,0,1,2}]
\violin{\tTHYMh}{1}{hcol}\violin{\tTHYMl}{2}{lcol}
\bpn{1}{-1.3}{-0.31}{-0.07}{0.46}{1.35}
\bp{2}{-0.9}{-0.41}{-0.07}{0.2}{1.2}{1.5\\}
\node[pv] at (axis cs:0.72,1.76) {p = 0.13};
\end{axis}
\begin{axis}[vio,\AT{1053}{2045},width=21.1mm,height=32.5mm,ymin=-1.33,ymax=1.25,ytick={-1,-0.5,0,0.5,1},yticklabels={−1.0,−0.5,0.0,0.5,1.0}]
\violin{\tUCECh}{1}{hcol}\violin{\tUCECl}{2}{lcol}
\bp{1}{-0.45}{-0.03}{0.06}{0.25}{0.55}{-0.55\\-0.6\\-0.65\\0.75\\0.85\\}
\bp{2}{-0.65}{-0.11}{0.04}{0.26}{0.75}{-0.9\\0.85\\}
\node[pv] at (axis cs:0.69,1.02) {p = 0.74};
\end{axis}

% ---------- heatmap
\begin{axis}[\AT{1951}{1124.3}, anchor=south west, scale only axis, width=164.9mm, height=99.64mm,
  xmin=0.5, xmax=23.5, ymin=-0.5, ymax=22.5, clip=false,
  axis line style={draw=none}, major tick length=0pt, tick style={draw=none},
  xtick={1,...,23},
  xticklabels={Step1:Release of cancer cell antigens,Step2:Cancer antigen presentation,Step3:Priming and activation,Step4:T cell recruiting,Step4:CD4 T cell recruiting,Step4:CD8 T cell recruiting,Step4:Th1 cell recruiting,Step4:Dendritic cell recruiting,Step4:Th22 cell recruiting,Step4:Macrophage recruiting,Step4:Monocyte recruiting,Step4:Neutrophil recruiting,Step4:NK cell recruiting,Step4:Eosinophil recruiting,Step4:Basophil recruiting,Step4:Th17 cell recruiting,Step4:B cell recruiting,Step4:Th2 cell recruiting,Step4:Treg cell recruiting,Step4:MDSC recruiting,Step5:Infiltration ofimmune cells into tumors,Step6:Recognitionof cancer cells by T cells,Step7:Killing of cancer cells},
  xticklabel style={rotate=90, anchor=east, inner sep=0pt, font=\hxf}, xticklabel shift=2.4mm,
  ytick={0,...,22},
  yticklabels={BLCA,BRCA,CESC,COAD,ESCA,HNSC,KIRC,KIRP,LAML,LGG,LIHC,LUAD,OV,PAAD,PCPG,PRAD,SARC,SKCM,STAD,TGCT,THYM,UCEC,database},
  yticklabel pos=right, yticklabel style={anchor=center, inner sep=0pt, font=\hyf, xshift=8.6mm}]
\pgfplotsinvokeforeach{1,...,23}{
 \addplot[scatter, only marks, mark=cell, point meta=explicit symbolic,
   mark options={line width=0.5pt},
   scatter/classes={0={draw=black!80,fill=white},1={draw=black!80,fill=pos},2={draw=black!80,fill=neg}}]
   table[x expr=#1, y expr=21-\coordindex, meta=s#1]{\heat};
}
\addplot[scatter, only marks, mark=cell, point meta=explicit symbolic, mark options={line width=0.5pt},
  scatter/classes={1={draw=black!80,fill=st1},2={draw=black!80,fill=st2},3={draw=black!80,fill=st3},4={draw=black!80,fill=st4},5={draw=black!80,fill=st5},6={draw=black!80,fill=st6},7={draw=black!80,fill=st7}}]
  table[x=x, y expr=22, meta=st]{\hdr};
\end{axis}
\end{tikzpicture}
\end{document}
